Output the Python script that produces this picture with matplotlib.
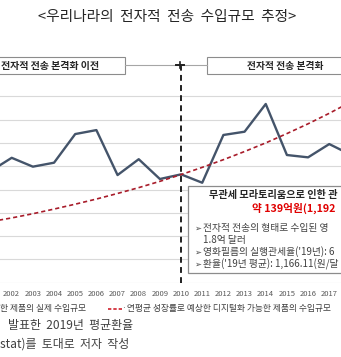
import matplotlib
matplotlib.use('Agg')
from matplotlib import pyplot as plt
from matplotlib.patches import Rectangle

plt.rcParams['font.family'] = ['Noto Sans CJK KR', 'DejaVu Sans']

W, H = 341, 357

# data (units = gridline steps)
years = list(range(2001, 2019))
actual = [4.79, 5.36, 4.98, 5.15, 6.38, 6.55, 4.62, 5.30, 4.45, 4.65,
          4.29, 6.34, 6.48, 7.67, 5.48, 5.38, 5.95, 5.50]
expected = [2.62, 2.78, 2.96, 3.16, 3.37, 3.59, 3.83, 4.08, 4.35, 4.64,
            4.95, 5.28, 5.63, 6.00, 6.40, 6.82, 7.27, 7.75]
tick_years = list(range(2002, 2018))
split_year = 2010

title = '<우리나라의  전자적  전송  수입규모  추정>'
before_label = '전자적 전송 본격화 이전'
after_label = '전자적 전송 본격화'
# the picture is cropped on the right, only the visible part is kept
box_head = '무관세 모라토리움으로 인한 관'
box_value = '약 139억원(1,192'
box_lines = ['전자적 전송의 형태로 수입된 영', '1.8억 달러',
             "영화필름의 실행관세율('19년): 6", "환율('19년 평균): 1,166.11(원/달"]
legend_actual = '한 제품의 실제 수입규모'
legend_expected = '·연평균 성장률로 예상한 디지털화 가능한 제품의 수입규모'
footer = ['발표한  2019년  평균환율', 'stat)를  토대로  저자  작성']


# pixel (from top-left) -> figure fraction
def px(x, y):
    return x / W, 1 - y / H


fig = plt.figure(figsize=(W / 100, H / 100), dpi=100)
fig.patch.set_facecolor('white')

ax_top, ax_bot = 49.7, 282.7
ax = fig.add_axes([0, 1 - ax_bot / H, 1, (ax_bot - ax_top) / H])
ax.set_xlim(2001.447, 2017.555)
ax.set_ylim(0, 10)
for k in range(0, 9):
    ax.axhline(k, color='#d9d9d9', lw=0.8, zorder=1)
for s in ax.spines.values():
    s.set_visible(False)
ax.set_yticks([])
ax.set_xticks(tick_years)
ax.set_xticklabels([str(y) for y in tick_years], fontsize=5.5, color='#595959')
ax.tick_params(axis='x', length=0, pad=5.5)
ax.patch.set_alpha(0)

ax.plot(years, actual, color='#44546a', lw=1.7, zorder=3, clip_on=False)
ax.plot(years, expected, color='#a81c2a', lw=1.2, ls=(0, (2.5, 1.8)), zorder=4)
ax.plot([split_year, split_year], [0, 9.34], color='#202020', lw=1.4,
        ls=(0, (3, 2.2)), zorder=5)

# top labels
fig.add_artist(Rectangle(px(-5, 74), 130 / W, 17 / H, transform=fig.transFigure,
                         facecolor='white', edgecolor='#8c8c8c', lw=0.8))
fig.text(*px(1, 65.5), before_label, fontsize=7.2, fontweight='bold',
         color='#262626', va='center', ha='left')
fig.add_artist(Rectangle(px(207, 74), 140 / W, 17 / H, transform=fig.transFigure,
                         facecolor='white', edgecolor='#8c8c8c', lw=0.8))
fig.text(*px(285, 65.5), after_label, fontsize=7.0, fontweight='bold',
         color='#262626', va='center', ha='center')
fig.add_artist(plt.Line2D([125 / W, 207 / W], [1 - 65 / H, 1 - 65 / H],
                          transform=fig.transFigure, color='#a6a6a6', lw=0.8))
for d in (-1, 1):
    fig.add_artist(plt.Line2D([(180 + 4 * d) / W, 180 / W], [1 - 65 / H, 1 - 65 / H],
                              transform=fig.transFigure, color='#202020', lw=1.4))
fig.add_artist(plt.Line2D([180 / W, 180 / W], [1 - 62 / H, 1 - 68 / H],
                          transform=fig.transFigure, color='#202020', lw=1.2))

# annotation box
fig.add_artist(Rectangle(px(188, 273), 160 / W, 87 / H, transform=fig.transFigure,
                         facecolor='white', edgecolor='#8c8c8c', lw=0.9, zorder=6))
fig.text(*px(209, 195), box_head, fontsize=7.3, fontweight='bold',
         color='#262626', va='center', ha='left', zorder=7)
fig.text(*px(252, 208), box_value, fontsize=7.7, fontweight='bold',
         color='#e00000', va='center', ha='left', zorder=7)
bullet_y = [228, None, 252, 264]
text_y = [228, 240, 252, 264]
for by, ty, t in zip(bullet_y, text_y, box_lines):
    if by is not None:
        fig.text(*px(194, by), '➢', fontsize=6, color='#404040',
                 va='center', ha='left', zorder=7)
    fig.text(*px(203, ty), t, fontsize=7.0, color='#404040',
             va='center', ha='left', zorder=7)

# legend
fig.text(*px(0, 309), legend_actual, fontsize=6.3, color='#404040',
         va='center', ha='left')
fig.add_artist(plt.Line2D([108 / W, 122 / W], [1 - 309 / H, 1 - 309 / H],
                          transform=fig.transFigure, color='#d0202c', lw=1.2,
                          ls=(0, (2, 1.2))))
fig.text(*px(122, 309), legend_expected, fontsize=6.3, color='#404040',
         va='center', ha='left')

# title and footer text
fig.text(*px(167, 17), title, fontsize=10.6, color='#262626',
         va='center', ha='center')
fig.text(*px(8, 326), footer[0], fontsize=8.6, color='#404040',
         va='center', ha='left')
fig.text(*px(0, 344), footer[1], fontsize=8.6, color='#404040',
         va='center', ha='left')

fig.savefig('out.png', dpi=100)
